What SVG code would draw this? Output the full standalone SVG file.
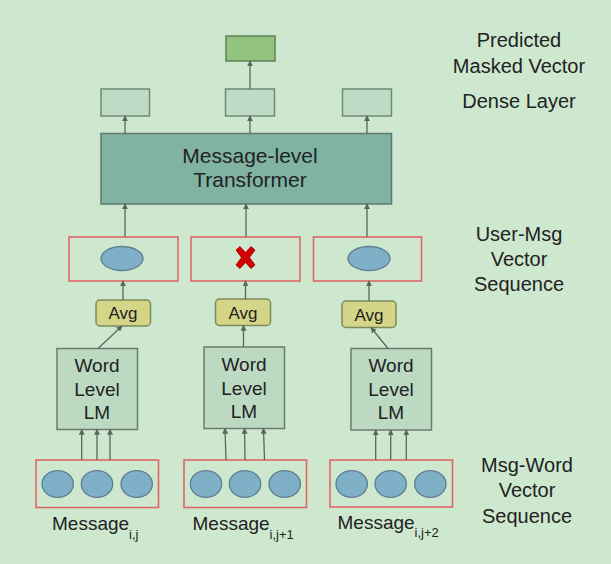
<svg xmlns="http://www.w3.org/2000/svg" width="611" height="564" viewBox="0 0 611 564">
<defs>
<marker id="ah" viewBox="0 0 8 8" refX="7" refY="4" markerWidth="6" markerHeight="6" orient="auto" markerUnits="userSpaceOnUse">
<path d="M0,0 L8,4 L0,8 z" fill="#5b665e"/>
</marker>
<style>
text{font-family:"Liberation Sans",Arial,sans-serif;fill:#222;text-anchor:middle}
.lbl{font-size:20px}
.conn line{stroke:#5b665e;stroke-width:1.3;marker-end:url(#ah)}
.dense{fill:#bedbc5;stroke:#6f8a76;stroke-width:1.5}
.lm{fill:#bcd9c2;stroke:#6b7c6f;stroke-width:1.5}
.red{fill:none;stroke:#e06666;stroke-width:1.6}
.dot{fill:#80afc8;stroke:#5d7f8f;stroke-width:1.3}
.avg{fill:#d5d587;stroke:#7d8a5c;stroke-width:1.5}
.lmt{font-size:19px}
.msg{font-size:19px;text-anchor:start}
.sub{font-size:13px}
</style>
</defs>
<rect width="611" height="564" fill="#cde8cf"/>

<g id="labels">
<text class="lbl" x="519" y="47">Predicted</text>
<text class="lbl" x="519" y="73">Masked Vector</text>
<text class="lbl" x="519" y="108">Dense Layer</text>
<text class="lbl" x="519" y="241">User-Msg</text>
<text class="lbl" x="519" y="266">Vector</text>
<text class="lbl" x="519" y="291">Sequence</text>
<text class="lbl" x="527" y="472">Msg-Word</text>
<text class="lbl" x="527" y="497">Vector</text>
<text class="lbl" x="527" y="523">Sequence</text>
</g>

<g id="output"><rect x="226" y="36" width="49" height="25" fill="#93c47d" stroke="#5f7f58" stroke-width="1.5"/></g>
<g id="dense1"><rect class="dense" x="101" y="89" width="48.5" height="27"/></g>
<g id="dense2"><rect class="dense" x="225.5" y="89" width="49" height="27"/></g>
<g id="dense3"><rect class="dense" x="342.5" y="89" width="49" height="27"/></g>

<g id="transformer">
<rect x="101" y="133.5" width="290.5" height="70.5" fill="#80b3a2" stroke="#5e7a6e" stroke-width="1.5"/>
<text x="250" y="163" style="font-size:21px">Message-level</text>
<text x="250" y="187" style="font-size:21px">Transformer</text>
</g>

<g id="umsg1"><rect class="red" x="69" y="237" width="109" height="44"/><ellipse class="dot" cx="122" cy="258.5" rx="21" ry="12"/></g>
<g id="umsg2"><rect class="red" x="191" y="237" width="109" height="44"/>
<path d="M236,250 L240,246.5 L245.5,252.5 L251,246.5 L255,250 L249.5,257.5 L255,265 L251,268.5 L245.5,262.5 L240,268.5 L236,265 L241.5,257.5 z" fill="#d40000" stroke="#990000" stroke-width="0.8" stroke-linejoin="round"/>
</g>
<g id="umsg3"><rect class="red" x="313.5" y="237" width="108" height="44"/><ellipse class="dot" cx="369" cy="258.5" rx="21" ry="12"/></g>

<g id="avg1"><rect class="avg" x="96" y="300" width="54.5" height="26" rx="4"/><text x="123" y="319" style="font-size:17px">Avg</text></g>
<g id="avg2"><rect class="avg" x="215.5" y="299" width="55" height="26.5" rx="4"/><text x="243" y="318.5" style="font-size:17px">Avg</text></g>
<g id="avg3"><rect class="avg" x="342" y="301" width="54" height="26.5" rx="4"/><text x="369" y="320.5" style="font-size:17px">Avg</text></g>

<g id="lm1"><rect class="lm" x="57" y="348.5" width="80.5" height="81"/>
<text class="lmt" x="97" y="372">Word</text><text class="lmt" x="97" y="396">Level</text><text class="lmt" x="97" y="419">LM</text></g>
<g id="lm2"><rect class="lm" x="204" y="347" width="80.5" height="81.5"/>
<text class="lmt" x="244" y="371">Word</text><text class="lmt" x="244" y="394.5">Level</text><text class="lmt" x="244" y="418">LM</text></g>
<g id="lm3"><rect class="lm" x="351" y="348.5" width="80.5" height="81.5"/>
<text class="lmt" x="391" y="372">Word</text><text class="lmt" x="391" y="396">Level</text><text class="lmt" x="391" y="419">LM</text></g>

<g id="msg1"><rect class="red" x="36" y="460" width="122.5" height="47.5"/>
<ellipse class="dot" cx="57.7" cy="484" rx="15.7" ry="13.3"/><ellipse class="dot" cx="97" cy="484" rx="15.7" ry="13.3"/><ellipse class="dot" cx="136.7" cy="484" rx="15.7" ry="13.3"/>
<text class="msg" x="52" y="530">Message<tspan class="sub" dy="9">i,j</tspan></text></g>
<g id="msg2"><rect class="red" x="184" y="460" width="122.5" height="47.5"/>
<ellipse class="dot" cx="206" cy="484" rx="15.7" ry="13.3"/><ellipse class="dot" cx="245" cy="484" rx="15.7" ry="13.3"/><ellipse class="dot" cx="284.7" cy="484" rx="15.7" ry="13.3"/>
<text class="msg" x="192.5" y="530">Message<tspan class="sub" dy="8.5">i,j+1</tspan></text></g>
<g id="msg3"><rect class="red" x="330" y="460" width="122.5" height="47"/>
<ellipse class="dot" cx="351.7" cy="484" rx="15.7" ry="13.3"/><ellipse class="dot" cx="390.7" cy="484" rx="15.7" ry="13.3"/><ellipse class="dot" cx="430.3" cy="484" rx="15.7" ry="13.3"/>
<text class="msg" x="337.5" y="528.5">Message<tspan class="sub" dy="8.5">i,j+2</tspan></text></g>

<g class="conn" id="connectors">
<line x1="250" y1="89" x2="250" y2="61"/>
<line x1="125" y1="133.5" x2="125" y2="116"/>
<line x1="250" y1="133.5" x2="250" y2="116"/>
<line x1="367" y1="133.5" x2="367" y2="116"/>
<line x1="125" y1="237" x2="125" y2="204"/>
<line x1="246" y1="237" x2="246" y2="204"/>
<line x1="367" y1="237" x2="367" y2="204"/>
<line x1="123" y1="300" x2="123" y2="281"/>
<line x1="245.5" y1="299" x2="245.5" y2="281"/>
<line x1="369" y1="301" x2="369" y2="281"/>
<line x1="98" y1="348.5" x2="122" y2="326"/>
<line x1="243.5" y1="347" x2="243.5" y2="325.5"/>
<line x1="388" y1="348.5" x2="371" y2="327.5"/>
<line x1="81.7" y1="460" x2="81.7" y2="429.5"/>
<line x1="97" y1="460" x2="97" y2="429.5"/>
<line x1="110" y1="460" x2="110" y2="429.5"/>
<line x1="226" y1="460" x2="225" y2="428.5"/>
<line x1="245" y1="460" x2="244.5" y2="428.5"/>
<line x1="264.5" y1="460" x2="263.5" y2="428.5"/>
<line x1="375.7" y1="460" x2="375.7" y2="430"/>
<line x1="390.7" y1="460" x2="390.7" y2="430"/>
<line x1="406.3" y1="460" x2="406.3" y2="430"/>
</g>
</svg>
